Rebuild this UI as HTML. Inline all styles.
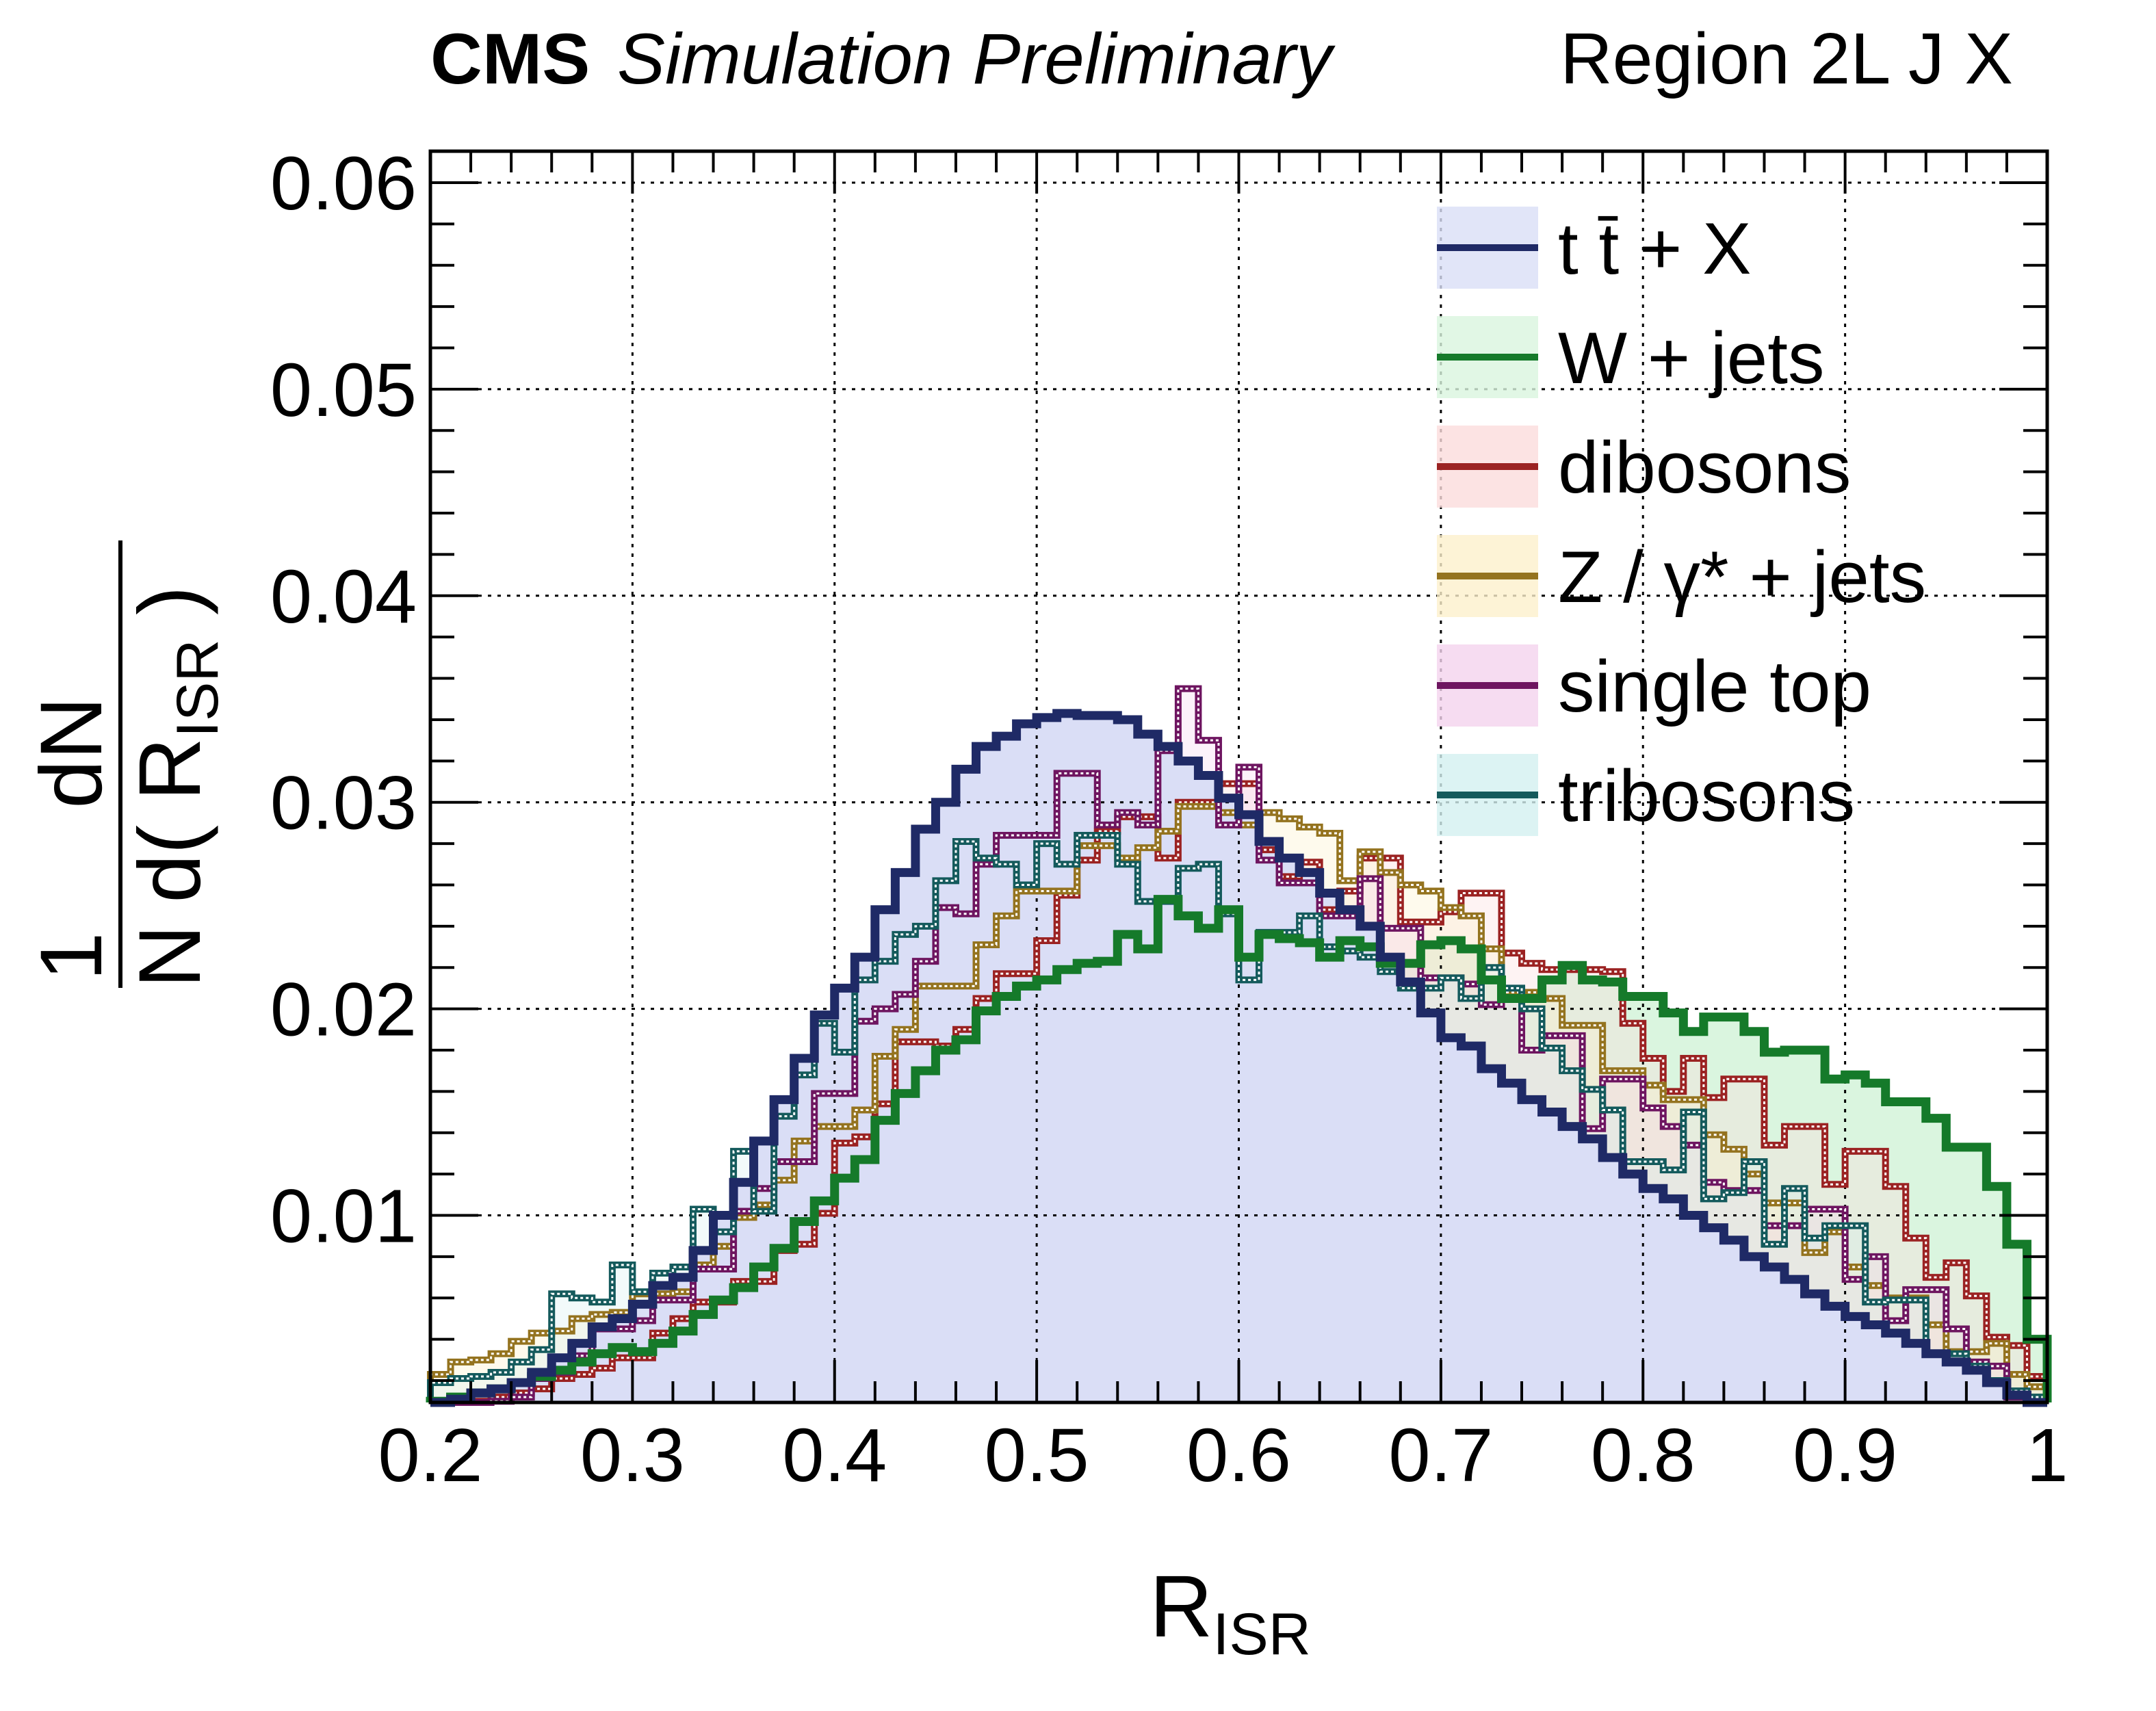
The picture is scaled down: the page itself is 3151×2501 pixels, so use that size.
<!DOCTYPE html>
<html><head><meta charset="utf-8"><style>
html,body{margin:0;padding:0;background:#fff;}
svg{display:block;font-family:"Liberation Sans",sans-serif;}
</style></head><body>
<svg id="chart" width="3151" height="2501" viewBox="0 0 3151 2501" xmlns="http://www.w3.org/2000/svg">
<rect x="0" y="0" width="3151" height="2501" fill="#fff"/>
<g id="fills"></g>
<g id="grid"></g>
<g id="lines"></g>
<g id="axes"></g>
<text x="629" y="122" font-size="105" font-weight="bold">CMS</text>
<text x="902" y="122" font-size="105" font-style="italic">Simulation Preliminary</text>
<text x="2942" y="122" font-size="106" text-anchor="end">Region 2L J X</text>
<text x="1680" y="2392" font-size="128">R<tspan font-size="86" dy="26">ISR</tspan></text>
<g>
  <text x="148" y="1398" font-size="128" text-anchor="middle" transform="rotate(-90 148 1398)">1</text>
  <text x="292" y="1398" font-size="128" text-anchor="middle" transform="rotate(-90 292 1398)">N</text>
  <line x1="176" y1="1352" x2="176" y2="1444" stroke="#000" stroke-width="6"/>
  <text x="148" y="1100" font-size="128" text-anchor="middle" transform="rotate(-90 148 1100)">dN</text>
  <text x="292" y="1088" font-size="128" text-anchor="middle" transform="rotate(-90 292 1088)">d( R<tspan font-size="86" dy="26">ISR</tspan><tspan dy="-26"> )</tspan></text>
  <line x1="176" y1="790" x2="176" y2="1444" stroke="#000" stroke-width="6"/>
</g>
<g id="legend"></g>
</svg>
<script>
const categoriesStart = 0.2;
const binWidth = 0.01;
const ttbar = [.0009,.0011,.0014,.0016,.0019,.0024,.0031,.0038,.0046,.0050,
.0057,.0066,.0070,.0083,.0100,.0116,.0136,.0156,.0176,.0197,
.0210,.0225,.0248,.0266,.0287,.0300,.0316,.0327,.0332,.0338,
.0341,.0343,.0342,.0342,.0340,.0333,.0327,.0320,.0313,.0302,
.0294,.0281,.0273,.0266,.0256,.0248,.0240,.0225,.0213,.0198,
.0186,.0182,.0171,.0164,.0156,.0150,.0143,.0137,.0128,.0120,
.0113,.0108,.0100,.0094,.0088,.0080,.0075,.0069,.0062,.0056,
.0051,.0047,.0043,.0038,.0033,.0029,.0025,.0019,.0013,.0008];
const wjets = [.0010,.0012,.0014,.0016,.0019,.0022,.0025,.0029,.0033,.0036,
.0034,.0038,.0044,.0052,.0059,.0065,.0075,.0084,.0097,.0107,
.0118,.0127,.0146,.0159,.0170,.0180,.0185,.0199,.0206,.0211,
.0214,.0219,.0222,.0223,.0236,.0229,.0253,.0245,.0239,.0248,
.0225,.0236,.0234,.0232,.0225,.0233,.0230,.0222,.0222,.0231,
.0233,.0229,.0214,.0205,.0205,.0214,.0221,.0214,.0213,.0206,
.0206,.0198,.0189,.0196,.0196,.0189,.0179,.0180,.0180,.0166,
.0168,.0164,.0155,.0155,.0147,.0133,.0133,.0114,.0086,.0040];
const dibosons = [.0008,.0009,.0010,.0012,.0014,.0016,.0021,.0023,.0026,.0031,
.0031,.0043,.0050,.0058,.0058,.0068,.0068,.0083,.0086,.0101,
.0135,.0138,.0154,.0184,.0184,.0182,.0190,.0205,.0217,.0217,
.0233,.0255,.0272,.0286,.0293,.0293,.0273,.0300,.0300,.0309,
.0309,.0277,.0264,.0271,.0248,.0257,.0273,.0273,.0242,.0242,
.0247,.0256,.0256,.0227,.0222,.0219,.0219,.0219,.0218,.0193,
.0176,.0160,.0176,.0157,.0166,.0166,.0134,.0143,.0143,.0115,
.0131,.0131,.0114,.0089,.0070,.0077,.0061,.0041,.0037,.0022];
const zjets = [.0023,.0029,.0030,.0033,.0039,.0043,.0044,.0050,.0052,.0053,
.0062,.0062,.0063,.0076,.0085,.0099,.0105,.0117,.0136,.0143,
.0143,.0151,.0177,.0190,.0211,.0211,.0211,.0231,.0245,.0257,
.0257,.0257,.0279,.0279,.0273,.0278,.0286,.0298,.0298,.0295,
.0289,.0295,.0292,.0288,.0285,.0262,.0276,.0266,.0260,.0257,
.0249,.0245,.0229,.0208,.0208,.0205,.0192,.0192,.0170,.0170,
.0163,.0156,.0156,.0139,.0132,.0120,.0106,.0106,.0082,.0092,
.0075,.0066,.0060,.0060,.0047,.0034,.0034,.0038,.0023,.0017];
const singletop = [.0008,.0008,.0009,.0010,.0012,.0021,.0024,.0032,.0045,.0045,
.0049,.0059,.0059,.0074,.0074,.0102,.0113,.0126,.0126,.0159,
.0159,.0194,.0200,.0207,.0223,.0249,.0246,.0270,.0284,.0284,
.0284,.0314,.0314,.0289,.0295,.0289,.0325,.0355,.0330,.0289,
.0317,.0272,.0261,.0261,.0245,.0245,.0263,.0239,.0239,.0215,
.0215,.0212,.0202,.0205,.0180,.0187,.0187,.0142,.0166,.0166,
.0152,.0143,.0134,.0116,.0112,.0112,.0095,.0095,.0103,.0103,
.0069,.0080,.0049,.0064,.0064,.0045,.0029,.0027,.0012,.0010];
const tribosons = [.0019,.0021,.0022,.0024,.0029,.0035,.0062,.0060,.0058,.0076,
.0063,.0072,.0075,.0103,.0092,.0131,.0102,.0148,.0168,.0193,
.0179,.0214,.0223,.0236,.0240,.0262,.0281,.0273,.0270,.0260,
.0280,.0270,.0284,.0284,.0270,.0252,.0252,.0268,.0270,.0246,
.0214,.0237,.0237,.0245,.0230,.0228,.0225,.0218,.0210,.0210,
.0215,.0205,.0220,.0210,.0200,.0181,.0170,.0161,.0151,.0126,
.0126,.0122,.0150,.0108,.0111,.0126,.0086,.0113,.0089,.0095,
.0095,.0058,.0059,.0059,.0033,.0033,.0027,.0020,.0015,.0012];
const xTickLabels = ["0.2","0.3","0.4","0.5","0.6","0.7","0.8","0.9","1"];
const yTickLabels = ["0.01","0.02","0.03","0.04","0.05","0.06"];
const legendLabels = ["t t\u0304 + X","W + jets","dibosons","Z / \u03B3* + jets","single top","tribosons"];

const NS="http://www.w3.org/2000/svg";
const L=629,R=2992,T=221,B=2050;
const xMin=0.2,xMax=1.0;
function X(v){return L+(v-xMin)/(xMax-xMin)*(R-L);}
function Y(v){const y=1776.5-(v-0.01)*30190;return Math.min(B,Math.max(T,y));}
function mk(tag,attrs,parent){const e=document.createElementNS(NS,tag);for(const k in attrs)e.setAttribute(k,attrs[k]);parent.appendChild(e);return e;}

function histPath(arr){let d='M'+X(categoriesStart)+','+B;
 for(let i=0;i<arr.length;i++){const lo=categoriesStart+i*binWidth,hi=lo+binWidth;d+=' L'+X(lo)+','+Y(arr[i])+' L'+X(hi)+','+Y(arr[i]);}
 d+=' L'+X(categoriesStart+arr.length*binWidth)+','+B;return d;}

const series=[
 {name:'ttbar',data:ttbar,color:'#1f2a66',fill:'#dadef6',op:1},
 {name:'wjets',data:wjets,color:'#157a2a',fill:'#daf5df',op:1},
 {name:'dibosons',data:dibosons,color:'#9b2222',fill:'#fbdcdc',op:0.35},
 {name:'zjets',data:zjets,color:'#94731f',fill:'#fcf0cc',op:0.35},
 {name:'singletop',data:singletop,color:'#6e1560',fill:'#f4d3ee',op:0.3},
 {name:'tribosons',data:tribosons,color:'#145a5c',fill:'#d3f0f0',op:0.3}
];
const fills=document.getElementById('fills'),lines=document.getElementById('lines');
[1,2,3,4,5,0].forEach(i=>{const s=series[i];const f=mk('path',{d:histPath(s.data),fill:s.fill,'fill-opacity':s.op,stroke:'none'},fills);
 
 });

const grid=document.getElementById('grid');
for(let i=1;i<xTickLabels.length-1;i++){const v=parseFloat(xTickLabels[i]);
 const g=mk('line',{x1:X(v),x2:X(v),y1:T,y2:B,stroke:'#000','stroke-width':3,'stroke-dasharray':'5 9'},grid);
 
 }
for(let i=0;i<yTickLabels.length;i++){const v=parseFloat(yTickLabels[i]);
 const g=mk('line',{x1:L,x2:R,y1:Y(v),y2:Y(v),stroke:'#000','stroke-width':3,'stroke-dasharray':'5 9'},grid);
 
 }

[2,3,4,5].forEach(i=>{const s=series[i];
 const p=mk('path',{d:histPath(s.data),fill:'none',stroke:s.color,'stroke-width':10},lines);
 
 
 mk('path',{d:histPath(s.data),fill:'none',stroke:'#fff','stroke-width':3,'stroke-dasharray':'4 4'},lines);});
[1,0].forEach(i=>{const s=series[i];
 const p=mk('path',{d:histPath(s.data),fill:'none',stroke:s.color,'stroke-width':13},lines);
 
 });

const axes=document.getElementById('axes');
mk('rect',{x:L,y:T,width:R-L,height:B-T,fill:'none',stroke:'#000','stroke-width':5},axes);
for(let k=0;k<=40;k++){const v=0.2+k*0.02;const major=(k%5===0);const len=major?62:31;
 mk('line',{x1:X(v),x2:X(v),y1:B,y2:B-len,stroke:'#000','stroke-width':4},axes);
 mk('line',{x1:X(v),x2:X(v),y1:T,y2:T+len,stroke:'#000','stroke-width':4},axes);}
for(let k=1;k<=30;k++){const v=k*0.002;const major=(k%5===0);const len=major?70:35;const y=Y(v);if(y>=B||y<=T)continue;
 mk('line',{x1:L,x2:L+len,y1:y,y2:y,stroke:'#000','stroke-width':4},axes);
 mk('line',{x1:R,x2:R-len,y1:y,y2:y,stroke:'#000','stroke-width':4},axes);}
xTickLabels.forEach(t=>{const e=mk('text',{x:X(parseFloat(t)),y:2165,'font-size':110,'text-anchor':'middle'},axes);e.textContent=t;
 
 });
yTickLabels.forEach(t=>{const e=mk('text',{x:609,y:Y(parseFloat(t))+39,'font-size':110,'text-anchor':'end'},axes);e.textContent=t;
 
 });

const legend=document.getElementById('legend');
legendLabels.forEach((lab,i)=>{const s=series[i];const cy=362+i*160;
 const g=mk('g',{},legend);
 
 
 mk('rect',{x:2100,y:cy-60,width:148,height:120,fill:s.fill,'fill-opacity':0.8},g);
 mk('line',{x1:2100,x2:2248,y1:cy,y2:cy,stroke:s.color,'stroke-width':10},g);
 const t=mk('text',{x:2277,y:cy+38,'font-size':107},g);t.textContent=lab;});
</script>
</body></html>
